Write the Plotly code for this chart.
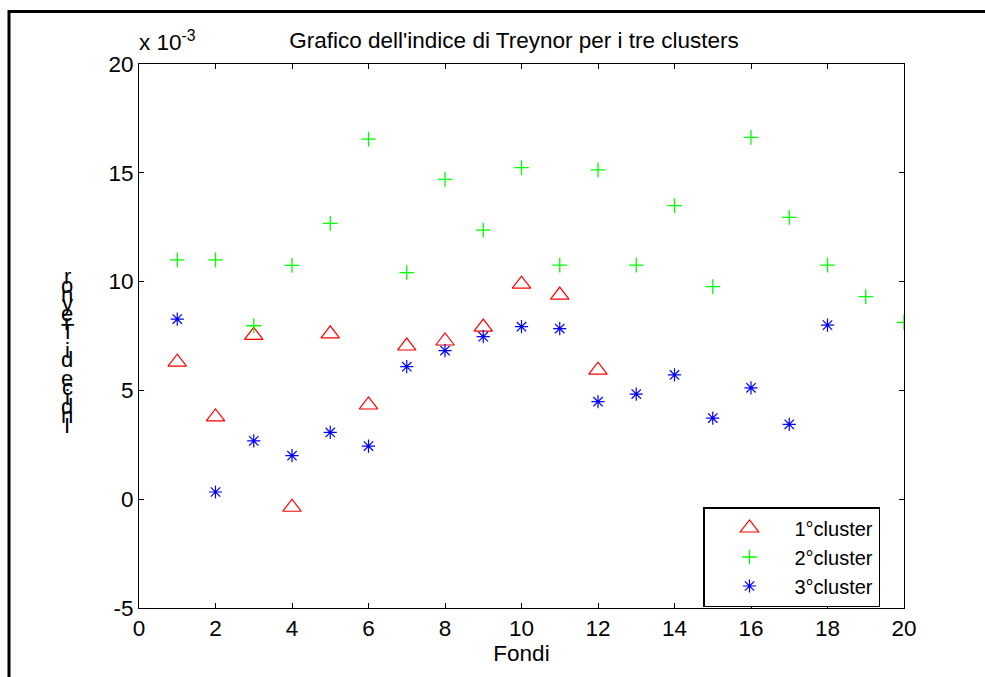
import plotly.graph_objects as go

# Data (values in units of 10^-3)
fondi_c1 = list(range(1, 13))
treynor_c1 = [6.3, 3.78, 7.53, -0.37, 7.6, 4.33, 7.04, 7.27, 7.91, 9.88, 9.38, 5.93]

fondi_c2 = list(range(1, 21))
treynor_c2 = [11.0, 11.0, 7.97, 10.75, 12.68, 16.55, 10.41, 14.7, 12.37, 15.24,
              10.76, 15.13, 10.76, 13.49, 9.77, 16.63, 12.95, 10.76, 9.31, 8.13]

fondi_c3 = list(range(1, 19))
treynor_c3 = [8.28, 0.33, 2.68, 2.0, 3.07, 2.44, 6.09, 6.83, 7.47, 7.93,
              7.84, 4.48, 4.83, 5.71, 3.73, 5.12, 3.44, 8.0]

series_names = ["1°cluster", "2°cluster", "3°cluster"]
x_ticks = list(range(0, 21, 2))
y_ticks = [-5, 0, 5, 10, 15, 20]
y_ticktext = ["-5", "0", "5", "10", "15", "20"]

title_text = "Grafico dell'indice di Treynor per i tre clusters"
xlabel_text = "Fondi"
ylabel_text = "Indice di Treynor"
exp_text = "x 10<sup>-3</sup>"

FONT = "Liberation Sans, Arial, sans-serif"
FS = 22.5

fig = go.Figure()
fig.add_trace(go.Scatter(x=fondi_c1, y=treynor_c1, mode="markers", name=series_names[0],
                         marker=dict(symbol="triangle-up-open", size=16, color="#ff0000",
                                     line=dict(width=1.2, color="#ff0000"))))
fig.add_trace(go.Scatter(x=fondi_c2, y=treynor_c2, mode="markers", name=series_names[1],
                         marker=dict(symbol="cross-thin-open", size=10.5, color="#00ff00",
                                     line=dict(width=1.3, color="#00ff00"))))
fig.add_trace(go.Scatter(x=fondi_c3, y=treynor_c3, mode="markers", name=series_names[2],
                         marker=dict(symbol="asterisk-open", size=11, color="#0000ff",
                                     line=dict(width=1.2, color="#0000ff"))))

W, H = 985, 677
L, R, T, B = 139, 904, 64, 608
pw, ph = R - L, B - T

def px_x(x):
    return (x - L) / pw

def px_y(y):
    return (B - y) / ph

axis_common = dict(showgrid=False, zeroline=False, showline=True, linecolor="black",
                   linewidth=1, mirror="allticks", ticks="inside", ticklen=5,
                   tickcolor="black", tickfont=dict(family=FONT, size=FS, color="black"))

fig.update_layout(
    width=W, height=H,
    margin=dict(l=L, r=W - R, t=T, b=H - B),
    paper_bgcolor="white", plot_bgcolor="white",
    font=dict(family=FONT, color="black"),
    title=dict(text=title_text, x=px_x(514), xref="paper", xanchor="center",
               y=1 - 40 / H, yref="container", yanchor="middle",
               font=dict(family=FONT, size=FS, color="black")),
    xaxis=dict(range=[0, 20], tickvals=x_ticks, **axis_common,
               title=dict(text=xlabel_text, standoff=4, font=dict(family=FONT, size=FS))),
    yaxis=dict(range=[-5, 20], tickvals=y_ticks, ticktext=y_ticktext, **axis_common),
    legend=dict(x=px_x(703), y=px_y(607), xanchor="left", yanchor="bottom",
                bgcolor="white", bordercolor="black", borderwidth=1.5,
                font=dict(family=FONT, size=20, color="black"),
                itemwidth=80, traceorder="normal"),
    showlegend=True,
)

# exponent label
fig.add_annotation(text=exp_text, xref="paper", yref="paper", x=px_x(137), y=px_y(57),
                   xanchor="left", yanchor="bottom", showarrow=False,
                   font=dict(family=FONT, size=FS, color="black"))

# y label: characters stacked bottom-to-top (as in the original rendering)
chars = list(ylabel_text)
base_bottom, base_top = 432, 283
n = len(chars)
for i, ch in enumerate(chars):
    if ch == " ":
        continue
    yb = base_bottom - i * (base_bottom - base_top) / (n - 1)
    fig.add_annotation(text=ch, xref="paper", yref="paper", x=px_x(67), y=px_y(yb - 7),
                       xanchor="center", yanchor="middle", showarrow=False,
                       font=dict(family=FONT, size=22, color="black"))

# outer frame
fig.add_shape(type="rect", xref="paper", yref="paper",
              x0=px_x(9), x1=px_x(1000), y0=px_y(700), y1=px_y(11.5),
              line=dict(color="black", width=3), fillcolor="rgba(0,0,0,0)", layer="above")

fig.write_html("out.html")
